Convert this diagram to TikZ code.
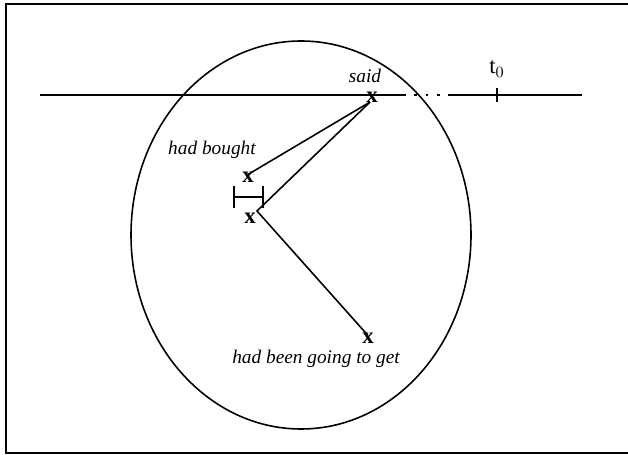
\documentclass[tikz,border=0pt]{standalone}
\usepackage{fontspec}
\setmainfont{Liberation Serif}
\usetikzlibrary{arrows.meta, positioning}

\begin{document}
\begin{tikzpicture}[
  x=0.02cm, y=-0.02cm,
  line width=0.9pt,
  xmark/.style={inner sep=0pt, font=\fontsize{13}{15}\selectfont\bfseries},
  tense/.style={inner sep=1pt, font=\fontsize{11}{13}\selectfont\itshape},
  frame/.style={line width=1.6pt}
]
  \useasboundingbox (0,0) rectangle (628,455);
  \draw[frame] (640,4) -- (6,4) -- (6,453) -- (640,453);

  % event circle
  \draw (301,235) ellipse [x radius=170, y radius=194];

  % time line
  \coordinate (lstart) at (40,95);
  \coordinate (dotA) at (403,95);
  \coordinate (dotB) at (448,95);
  \coordinate (lend) at (582,95);
  \coordinate (now) at (497,95);
  \draw (lstart) -- (dotA);
  \draw[dash pattern=on 1.5pt off 5pt] (dotA) -- (dotB);
  \draw (dotB) -- (lend);
  \draw (now) ++(0,-7) -- ++(0,14);
  \node[font=\fontsize{13}{15}\selectfont] (t0) at (497,69) {t$_0$};

  % points
  \node[xmark] (xsaid) at (372,97) {x};
  \node[tense] (said) at (365,76) {said};
  \node[xmark] (xbought) at (248,177) {x};
  \node[tense] (bought) at (212,150) {had bought};
  \node[xmark] (xlow) at (250,218) {x};
  \node[xmark] (xget) at (368,338) {x};
  \node[tense] (get) at (316,359) {had been going to get};

  % interval
  \coordinate (brl) at (233,197);
  \coordinate (brr) at (264,197);
  \draw[{Bar[width=13pt]}-{Bar[width=13pt]}] (brl) -- (brr);

  \coordinate (vtx) at (257,211);
  \draw (xsaid.south) ++(-2,-1) coordinate (sfoot);
  \draw (sfoot) -- ([yshift=-2]xbought.north);
  \draw (sfoot) -- (vtx) -- ([yshift=-2]xget.north);
\end{tikzpicture}
\end{document}
